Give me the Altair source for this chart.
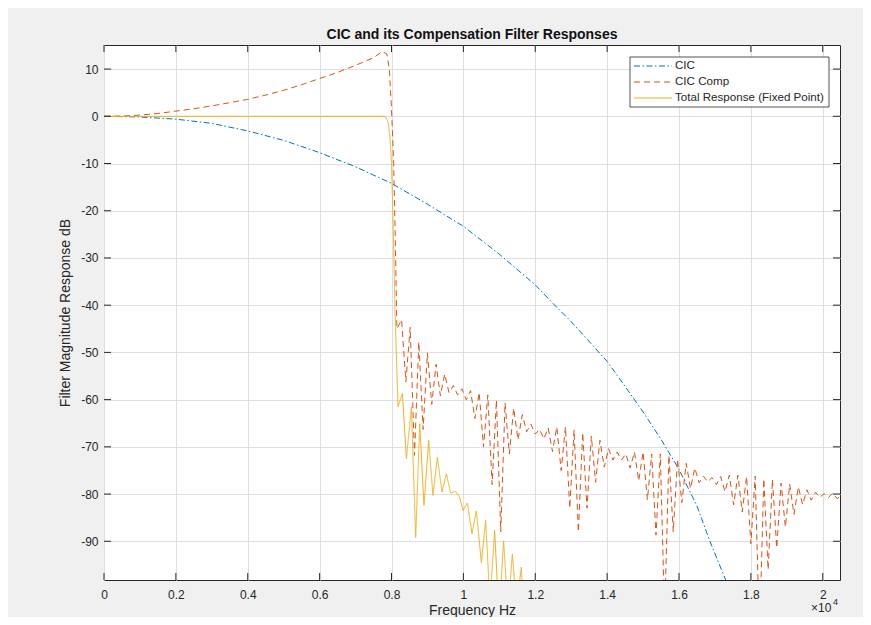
import altair as alt
import pandas as pd

# ---- series names and styles ----
names = ["CIC", "CIC Comp", "Total Response (Fixed Point)"]
colors = ["#0072BD", "#D95319", "#EDB120"]
dashes = [[6, 2.5, 1.5, 2.5], [6, 4], [1, 0]]

# ---- CIC response (Hz, dB) ----
cic_f = [0, 1000, 2000, 3000, 4000, 5000, 6000, 7000, 8000, 9000, 10000, 11000,
         12000, 12400, 13000, 13420, 14000, 14500, 15000, 15500, 16000, 16500,
         16850, 17100, 17310, 17500]
cic_db = [0, -0.15, -0.6, -1.5, -3.1, -5.1, -7.7, -10.7, -14.2, -18.6, -23.3, -29.2,
          -35.7, -38.9, -43.5, -47.0, -51.9, -57.2, -62.6, -68.4, -74.8, -82.5,
          -89.8, -94.5, -98.4, -102.0]

# ---- CIC compensation filter response (Hz, dB) ----
comp_f = [0, 500, 1000, 1500, 2000, 2500, 3000, 3500, 4000, 4500, 5000, 5500, 6000,
          6500, 7000, 7500, 7740, 7870, 7940, 7990, 8020, 8060, 8100, 8150,
          8280, 8400, 8520, 8640, 8760, 8880, 9000, 9120, 9240, 9360, 9480, 9600,
          9720, 9840, 9960, 10080, 10200, 10320, 10440, 10560, 10680, 10800, 10920,
          11040, 11160, 11280, 11400, 11520, 11640, 11760, 11880, 12000, 12120, 12240,
          12360, 12480, 12600, 12720, 12840, 12960, 13080, 13200, 13320, 13440, 13560,
          13680, 13800, 13920, 14040, 14160, 14280, 14400, 14520, 14640, 14760, 14880,
          15000, 15120, 15240, 15360, 15480, 15600, 15720, 15840, 15960, 16080, 16200,
          16320, 16440, 16560, 16680, 16800, 16920, 17040, 17160, 17280, 17400, 17520,
          17640, 17760, 17880, 18000, 18120, 18240, 18360, 18480, 18600, 18720, 18840,
          18960, 19080, 19200, 19320, 19440, 19560, 19680, 19800, 19920, 20040, 20160,
          20280, 20400, 20480]
comp_db = [0, 0.05, 0.25, 0.6, 1.1, 1.6, 2.2, 2.9, 3.6, 4.5, 5.5, 6.7, 8.0,
           9.3, 10.8, 12.4, 13.7, 13.2, 10.0, 3.0, -2.0, -10.0, -24.0, -45.0,
           -43.1, -56.2, -44.7, -71.8, -47.8, -66.3, -50.1, -61.0, -52.5, -59.2, -54.6, -58.5,
           -57.0, -59.0, -57.7, -60.0, -58.1, -64.0, -58.5, -70.0, -59.0, -78.0, -60.1,
           -88.0, -60.7, -71.5, -61.8, -68.5, -63.2, -66.8, -65.2, -67.3, -66.3, -68.3,
           -66.0, -71.0, -65.8, -75.0, -65.8, -83.0, -66.4, -88.0, -67.0, -83.0, -67.7,
           -77.5, -68.6, -74.3, -70.4, -72.8, -71.1, -72.8, -71.5, -74.5, -71.1, -77.2,
           -71.1, -81.2, -71.5, -88.7, -71.5, -106.0, -71.8, -88.0, -72.6, -81.8, -73.5,
           -78.8, -74.5, -77.6, -76.2, -77.4, -76.5, -78.0, -76.3, -79.5, -76.0, -82.3,
           -76.0, -83.8, -76.3, -90.5, -76.2, -110.0, -76.8, -96.0, -76.9, -91.4, -77.7,
           -87.0, -77.9, -84.3, -78.5, -82.2, -79.1, -81.3, -79.6, -80.7, -79.9, -80.7,
           -79.8, -81.0, -80.5]

# ---- total (fixed point) response (Hz, dB) ----
tot_f = [0, 4000, 7820, 7900, 7960, 8000, 8050, 8100, 8181, 8304, 8415, 8554, 8673,
         8785, 8904, 9035, 9154, 9277, 9405, 9527, 9647, 9778, 9897, 9989, 10111,
         10239, 10361, 10501, 10620, 10740, 10870, 10990, 11120, 11240, 11363, 11480,
         11613, 11700]
tot_db = [0, 0, 0, -1.0, -4.5, -10.0, -24.0, -42.0, -61.5, -58.7, -72.5, -61.5, -89.2,
          -65.1, -82.4, -68.6, -80.3, -72.2, -79.6, -75.7, -79.8, -79.4, -80.7, -83.5, -81.9,
          -88.4, -83.6, -94.5, -85.6, -103.0, -87.7, -106.0, -89.9, -105.0, -92.7, -104.0,
          -95.5, -108.0]

# ---- axes ----
x_ticks = [0, 2000, 4000, 6000, 8000, 10000, 12000, 14000, 16000, 18000, 20000]
y_ticks = [-90, -80, -70, -60, -50, -40, -30, -20, -10, 0, 10]
x_domain = [0, 20480]
y_domain = [-98.2, 15.1]

W, H = 736, 535
FONT = "Liberation Sans"
DARK = "#262626"

df = pd.concat([
    pd.DataFrame({"f": cic_f, "db": cic_db, "series": names[0]}),
    pd.DataFrame({"f": comp_f, "db": comp_db, "series": names[1]}),
    pd.DataFrame({"f": tot_f, "db": tot_db, "series": names[2]}),
], ignore_index=True)

color_scale = alt.Scale(domain=names, range=colors)
dash_scale = alt.Scale(domain=names, range=dashes)
xs = alt.Scale(domain=x_domain, nice=False, zero=False)
ys = alt.Scale(domain=y_domain, nice=False, zero=False)

x_axis = alt.Axis(values=x_ticks, labelExpr="'' + datum.value / 10000", title="Frequency Hz",
                  grid=True, ticks=False, domain=False, labelFlush=False, labelOverlap=False,
                  labelPadding=9, titlePadding=3, labelFontSize=12, titleFontSize=14)
y_axis = alt.Axis(values=y_ticks, labelExpr="'' + datum.value", title="Filter Magnitude Response dB",
                  grid=True, ticks=False, domain=False, labelPadding=6, titlePadding=8,
                  labelFontSize=12, titleFontSize=14, labelOverlap=False)

X = alt.X("f:Q", scale=xs, axis=x_axis)
Y = alt.Y("db:Q", scale=ys, axis=y_axis)


def line_layer(name):
    return alt.Chart(df).transform_filter(alt.datum.series == name).mark_line(
        clip=True, strokeWidth=1
    ).encode(
        x=X, y=Y,
        color=alt.Color("series:N", scale=color_scale, legend=None),
        strokeDash=alt.StrokeDash("series:N", scale=dash_scale, legend=None),
        order=alt.Order("f:Q"),
    )


lines = [line_layer(n) for n in names]

# inward tick marks on all four sides
xt = pd.DataFrame({"f": x_ticks})
yt = pd.DataFrame({"db": y_ticks})
tick_layers = []
for y0, y1 in [(H, H - 7), (0, 7)]:
    tick_layers.append(alt.Chart(xt).mark_rule(color=DARK, strokeWidth=1).encode(
        x=X, y=alt.value(y0), y2=alt.value(y1)))
for x0, x1 in [(0, 7), (W - 7, W)]:
    tick_layers.append(alt.Chart(yt).mark_rule(color=DARK, strokeWidth=1).encode(
        y=Y, x=alt.value(x0), x2=alt.value(x1)))

# legend
one = pd.DataFrame({"k": [0]})
leg_box = alt.Chart(one).mark_rect(fill="white", stroke=DARK, strokeWidth=0.8).encode(
    x=alt.value(526), x2=alt.value(725), y=alt.value(12), y2=alt.value(62))
leg_df = pd.DataFrame({"series": names, "row": [0, 1, 2]})
leg_base = alt.Chart(leg_df).transform_calculate(ly="21 + 16 * datum.row")
leg_lines = leg_base.mark_rule(strokeWidth=1).encode(
    x=alt.value(530), x2=alt.value(568),
    y=alt.Y("ly:Q", scale=None, axis=None),
    color=alt.Color("series:N", scale=color_scale, legend=None),
    strokeDash=alt.StrokeDash("series:N", scale=dash_scale, legend=None),
)
leg_text = leg_base.mark_text(align="left", baseline="middle", fontSize=11.6, font=FONT,
                              color=DARK).encode(
    x=alt.value(571), y=alt.Y("ly:Q", scale=None, axis=None), text="series:N")

# x10^4 exponent label
exp_base = alt.Chart(one).mark_text(align="left", baseline="alphabetic", fontSize=12,
                                    font=FONT, color=DARK).encode(
    x=alt.value(707), y=alt.value(567), text=alt.value("\u00d710"))
exp_pow = alt.Chart(one).mark_text(align="left", baseline="alphabetic", fontSize=9,
                                   font=FONT, color=DARK).encode(
    x=alt.value(729), y=alt.value(560), text=alt.value("4"))

chart = alt.layer(*lines, *tick_layers, leg_box, leg_lines, leg_text, exp_base, exp_pow).properties(
    width=W, height=H,
    title=alt.TitleParams("CIC and its Compensation Filter Responses", fontSize=14,
                          fontWeight="bold", font=FONT, color="#111111", offset=3),
    padding={"left": 96, "top": 37, "right": 23, "bottom": 37},
    autosize=alt.AutoSizeParams(type="none"),
).configure(background="#f0f0f0").configure_view(
    fill="white", stroke=DARK, strokeWidth=1
).configure_axis(
    labelFont=FONT, titleFont=FONT, labelColor=DARK, titleColor=DARK,
    titleFontWeight="normal", gridColor="#dfdfdf", gridWidth=1,
)

chart.save("out.html", embed_options={"renderer": "svg", "actions": False})
